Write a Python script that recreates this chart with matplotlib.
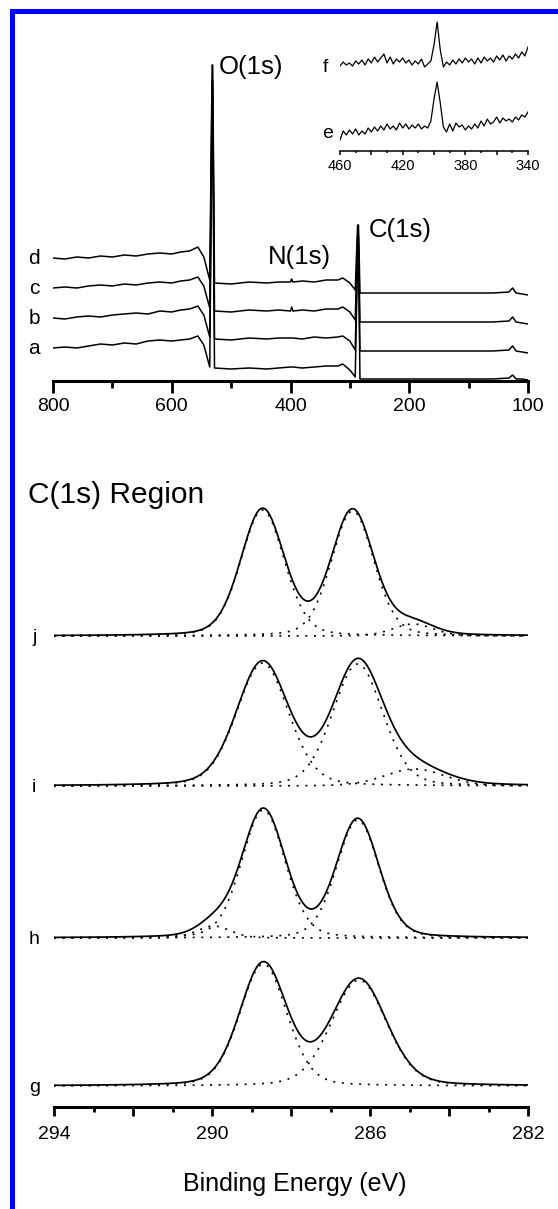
import numpy as np
import matplotlib.pyplot as plt
from matplotlib.patches import Rectangle
from matplotlib.ticker import FixedLocator, MultipleLocator

plt.rcParams['font.family'] = ['Liberation Sans', 'DejaVu Sans']

W, H = 558, 1209

# ---- survey spectra (binding energy in eV, intensity in arb. units, stacked) ----
survey_ev = [800, 780, 760, 740, 720, 700, 680, 660, 640, 620,
             600, 585, 570, 556, 546, 536, 532, 531, 528, 500,
             470, 440, 420, 400, 398, 396, 380, 360, 340, 320,
             312, 300, 291, 287, 285.5, 283, 250, 200, 150, 100,
             60, 32, 26, 20, 10, 0]
survey_d = [123, 122, 124, 123, 125, 124, 126, 125, 127, 128,
            127, 129, 130, 134, 124, 101, 316, 316, 98, 97,
            99, 98, 99, 99, 102, 99, 100, 99, 101, 101,
            103, 98, 91, 156, 156, 88, 88, 88, 88, 88,
            88, 89, 93, 88, 87, 86]
survey_c = [93, 94, 93, 95, 96, 95, 97, 96, 98, 99,
            98, 100, 101, 104, 95, 73, 300, 300, 70, 69,
            71, 70, 71, 70, 74, 70, 71, 70, 72, 72,
            74, 69, 61, 145, 145, 59, 59, 59, 59, 59,
            59, 60, 64, 59, 58, 57]
survey_b = [63, 62, 64, 65, 64, 66, 67, 68, 67, 70,
            69, 71, 72, 75, 66, 44, 285, 285, 42, 41,
            43, 42, 43, 43, 43, 43, 42, 44, 43, 44,
            45, 40, 31, 135, 135, 30, 30, 30, 30, 30,
            30, 31, 35, 30, 29, 28]
survey_a = [33, 34, 33, 35, 37, 36, 38, 37, 40, 41,
            40, 41, 42, 45, 36, 14, 270, 270, 13, 12,
            13, 12, 13, 14, 14, 14, 13, 14, 15, 15,
            17, 11, 4, 125, 125, 2, 2, 2, 2, 2,
            2, 3, 6, 2, 2, 1]
survey_names = ['d', 'c', 'b', 'a']
survey_ticks = [800, 600, 400, 200, 0]
survey_ticklabels = ['800', '600', '400', '200', '100']

# ---- N(1s) inset ----
inset_ev = list(range(460, 339, -2))
inset_f = [85, 89, 86, 88, 85, 90, 87, 91, 86, 92, 88, 94, 89, 93, 97, 88, 94, 87,
           92, 89, 93, 88, 91, 86, 90, 87, 92, 84, 87, 90, 106, 129, 101, 84, 89, 86,
           91, 87, 92, 88, 93, 89, 92, 87, 93, 88, 94, 90, 93, 89, 95, 91, 96, 90,
           95, 92, 97, 93, 99, 95, 104]
inset_e = [11, 20, 16, 21, 17, 22, 16, 20, 17, 23, 19, 24, 20, 25, 21, 27, 22, 25,
           21, 28, 23, 27, 22, 26, 23, 27, 22, 25, 23, 30, 52, 69, 48, 24, 19, 27,
           20, 28, 24, 26, 21, 25, 22, 27, 23, 30, 25, 32, 27, 29, 34, 28, 33, 30,
           32, 29, 34, 31, 36, 34, 39]
inset_ticks = [460, 420, 380, 340]

# ---- C(1s) region fits: component centre (eV), height, FWHM (eV) ----
c1s_names = ['g', 'h', 'i', 'j']
c1s_offsets = [0, 148, 300, 450]
c1s_centers = [[288.70, 286.28], [288.70, 286.31, 289.96],
               [288.72, 286.31, 284.87], [288.72, 286.44, 284.91]]
c1s_heights = [[122, 106], [128, 118, 12], [123, 122, 17], [126, 125, 12]]
c1s_fwhm = [[1.4, 1.65], [1.3, 1.27, 1.0], [1.55, 1.5, 1.8], [1.3, 1.27, 1.2]]
c1s_ticks = [294, 290, 286, 282]


def gl_peak(x, c, h, w, mix=0.2):
    d = (x - c) / w
    return h * ((1 - mix) * np.exp(-4 * np.log(2) * d ** 2) + mix / (1 + 4 * d ** 2))


def px_axes(fig, left, top, right, bottom):
    return fig.add_axes([left / W, 1 - bottom / H, (right - left) / W, (bottom - top) / H])


def clean_axis(a, spine_lw):
    a.set_yticks([])
    for s in ['left', 'right', 'top']:
        a.spines[s].set_visible(False)
    a.spines['bottom'].set_linewidth(spine_lw)
    a.patch.set_alpha(0)


fig = plt.figure(figsize=(W / 100, H / 100), dpi=100)

# blue frame
fig.add_artist(Rectangle((10 / W, 0), 5 / W, 1 - 9 / H, transform=fig.transFigure,
                         color='#0000ff', lw=0))
fig.add_artist(Rectangle((10 / W, 1 - 14 / H), 1, 5 / H, transform=fig.transFigure,
                         color='#0000ff', lw=0))

# ----- survey -----
ax = px_axes(fig, 53, 40, 528, 381)
for name, vals in zip(survey_names, [survey_d, survey_c, survey_b, survey_a]):
    ax.plot(survey_ev, vals, color='black', lw=1.1)
    ax.text(832, vals[0], name, fontsize=15, ha='center', va='center')
ax.text(520, 314, 'O(1s)', fontsize=18.5, ha='left', va='center')
ax.text(269, 151, 'C(1s)', fontsize=18.5, ha='left', va='center')
ax.text(438, 124, 'N(1s)', fontsize=18.5, ha='left', va='center')
ax.set_xlim(800, 0)
ax.set_ylim(0, 341)
ax.xaxis.set_major_locator(FixedLocator(survey_ticks))
ax.set_xticklabels(survey_ticklabels)
ax.xaxis.set_minor_locator(MultipleLocator(100))
clean_axis(ax, 2.2)
ax.tick_params(axis='x', which='major', length=8.4, width=2, labelsize=14, pad=4)
ax.tick_params(axis='x', which='minor', length=5.2, width=2)

# ----- inset -----
ins = px_axes(fig, 340, 15, 528, 151)
ins.plot(inset_ev, inset_f, color='black', lw=0.9)
ins.plot(inset_ev, inset_e, color='black', lw=0.9)
ins.text(469.5, 84, 'f', fontsize=14, ha='center', va='center')
ins.text(468, 18, 'e', fontsize=14, ha='center', va='center')
ins.set_xlim(460, 340)
ins.set_ylim(0, 136)
ins_major = list(range(460, 339, -20))
ins.set_xticks(ins_major)
ins.set_xticklabels([str(t) if t in inset_ticks else '' for t in ins_major])
ins.xaxis.set_minor_locator(MultipleLocator(10))
clean_axis(ins, 1.1)
ins.tick_params(axis='x', which='major', length=2.9, width=1.1, labelsize=10.5, pad=3)
ins.tick_params(axis='x', which='minor', length=1.7, width=1.1)

# ----- C(1s) region -----
bx = px_axes(fig, 54, 470, 528, 1107)
x = np.linspace(294, 282, 800)
for name, off, cs, hs, ws in zip(c1s_names, c1s_offsets, c1s_centers, c1s_heights, c1s_fwhm):
    comps = [gl_peak(x, c, h, w) for c, h, w in zip(cs, hs, ws)]
    for comp in comps:
        bx.plot(x, off + comp, color='black', lw=1.2, linestyle=(0, (1.2, 4)))
    bx.plot(x, off + np.sum(comps, axis=0), color='black', lw=1.25)
    bx.text(294.5, off - 2, name, fontsize=14, ha='center', va='center')
bx.text(294.65, 591, 'C(1s) Region', fontsize=21.5, ha='left', va='center')
bx.set_xlim(294, 282)
bx.set_ylim(-21, 616)
c1s_major = list(range(294, 281, -2))
bx.set_xticks(c1s_major)
bx.set_xticklabels([str(t) if t in c1s_ticks else '' for t in c1s_major])
bx.xaxis.set_minor_locator(MultipleLocator(1))
clean_axis(bx, 2.2)
bx.tick_params(axis='x', which='major', length=6.7, width=2, labelsize=14, pad=7)
bx.tick_params(axis='x', which='minor', length=3.6, width=2)

fig.text(294.5 / W, 1 - 1184 / H, 'Binding Energy (eV)', fontsize=18,
         ha='center', va='center')

fig.savefig('out.png', dpi=100)
